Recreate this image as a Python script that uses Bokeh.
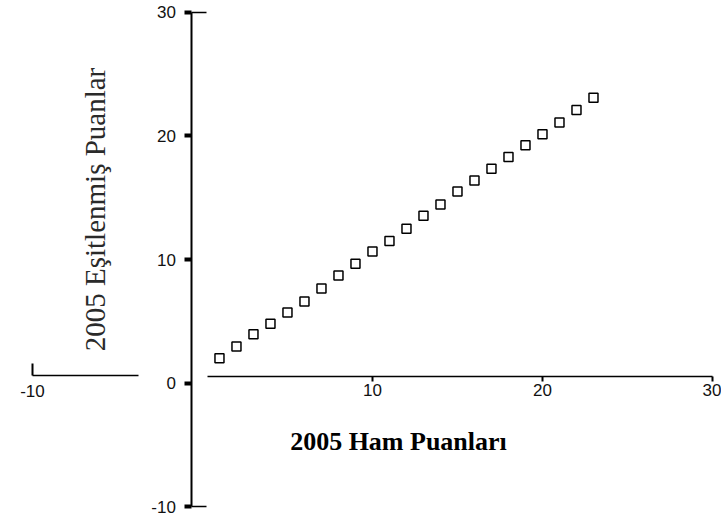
from bokeh.plotting import figure
from bokeh.models import LinearAxis, FixedTicker, Range1d, Label, ColumnDataSource, Grid
from bokeh.embed import file_html
from bokeh.resources import INLINE
from math import pi

# data
raw_scores = [1, 2, 3, 4, 5, 6, 7, 8, 9, 10, 11, 12, 13, 14, 15, 16, 17, 18, 19, 20, 21, 22, 23]
equated_scores = [2.0, 2.95, 3.95, 4.8, 5.7, 6.6, 7.65, 8.7, 9.65, 10.65, 11.5, 12.5,
                  13.55, 14.45, 15.5, 16.4, 17.35, 18.3, 19.25, 20.15, 21.1, 22.1, 23.1]
x_ticks_left = [-10]
x_ticks_right = [10, 20, 30]
y_ticks = [-10, 0, 10, 20, 30]
x_title = "2005 Ham Puanları"
y_title = "2005 Eşitlenmiş Puanlar"

p = figure(width=721, height=519,
           x_range=Range1d(-11.88, 30.53), y_range=Range1d(-11.05, 30.97),
           output_backend="svg", toolbar_location=None,
           x_axis_location=None, y_axis_location=None, min_border=0)
p.outline_line_color = None
p.background_fill_color = "white"
for g in p.select(type=Grid):
    g.visible = False

tick_font = "Liberation Sans"

def style(ax):
    ax.minor_tick_line_color = None
    ax.major_label_text_font = tick_font
    ax.major_label_text_font_size = "17px"
    ax.major_label_text_color = "#111111"
    ax.axis_line_color = "black"
    ax.major_tick_line_color = "black"
    ax.major_label_overrides = {-10: "-10"}

# left x-axis segment
xl = LinearAxis(fixed_location=0.6, bounds=(-10, -3.76), ticker=FixedTicker(ticks=x_ticks_left))
style(xl)
xl.axis_line_width = 1.5
xl.major_tick_in = 12
xl.major_tick_out = 0
xl.major_tick_line_width = 2
xl.major_label_standoff = 9
p.add_layout(xl, "below")

# right x-axis segment
xr = LinearAxis(fixed_location=0.5, bounds=(0.3, 30), ticker=FixedTicker(ticks=x_ticks_right))
style(xr)
xr.axis_line_width = 1.5
xr.major_tick_in = 0
xr.major_tick_out = 5
xr.major_tick_line_width = 2
xr.major_label_standoff = 2
p.add_layout(xr, "below")

# y axis
ya = LinearAxis(fixed_location=-0.62, bounds=(-10, 30), ticker=FixedTicker(ticks=y_ticks))
style(ya)
ya.axis_line_width = 2
ya.major_tick_in = 0
ya.major_tick_out = 7
ya.major_tick_line_width = 4
ya.major_label_standoff = 9
p.add_layout(ya, "left")

# end caps on y axis
yc = LinearAxis(fixed_location=-0.62, bounds=(-10, 30), ticker=FixedTicker(ticks=[-10, 30]))
yc.axis_line_color = None
yc.minor_tick_line_color = None
yc.major_label_text_color = None
yc.major_tick_in = 15
yc.major_tick_out = 0
yc.major_tick_line_width = 1.5
yc.major_tick_line_color = "black"
p.add_layout(yc, "left")

src = ColumnDataSource(data=dict(x=raw_scores, y=equated_scores))
p.scatter("x", "y", source=src, marker="square", size=9,
          fill_color=None, line_color="black", line_width=1.5)

p.add_layout(Label(x=-6.32, y=14.05, text=y_title, angle=pi / 2,
                   text_align="center", text_baseline="middle",
                   text_font="Liberation Serif", text_font_size="29px",
                   text_color="#2a2a2a"))
p.add_layout(Label(x=11.53, y=-4.74, text=x_title,
                   text_align="center", text_baseline="middle",
                   text_font="Liberation Serif", text_font_size="26px",
                   text_font_style="bold", text_color="black"))

open("out.html", "w").write(file_html(p, INLINE))
